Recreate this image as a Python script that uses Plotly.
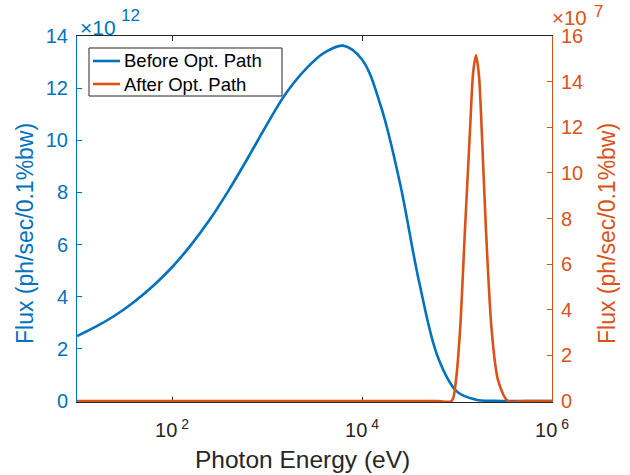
import plotly.graph_objects as go

# ---- data ----
energy_before = [10, 15.8, 25.1, 39.8, 63.1, 100, 158, 251, 398, 631, 1000, 1585, 2512,
                 3981, 6310, 10000, 15849, 25119, 39811, 63096, 100000, 158489, 251189,
                 398107, 630957, 1000000]
flux_before_e12 = [2.49, 2.85, 3.28, 3.80, 4.41, 5.13, 5.98, 6.97, 8.10, 9.33, 10.61,
                   11.80, 12.70, 13.35, 13.63, 13.1, 11.29, 8.35, 4.59, 1.67, 0.36, 0.05,
                   0.01, 0.0, 0.0, 0.0]

energy_after = [10, 1000, 30000, 63100, 87900, 97500, 107700, 121300, 137100, 148000,
                158500, 170000, 182000, 201800, 231700, 270400, 344400, 501000, 1000000]
flux_after_e7 = [0, 0, 0, 0, 0, 0.92, 3.11, 7.5, 11.88, 14.4,
                 15.15, 14.3, 11.88, 7.5, 3.11, 0.92, 0, 0, 0]

series_names = ["Before Opt. Path", "After Opt. Path"]
x_tick_vals = [1e2, 1e4, 1e6]
x_tick_text = ["10<sup> 2</sup>", "10<sup> 4</sup>", "10<sup> 6</sup>"]
left_ticks = [0, 2, 4, 6, 8, 10, 12, 14]
right_ticks = [0, 2, 4, 6, 8, 10, 12, 14, 16]

BLUE = "#0072BD"
ORANGE = "#D95319"
DARK = "#262626"
FONT = "Liberation Sans, Arial, Helvetica, sans-serif"

# plot-area pixel geometry (used to place decorations)
L, R, T, B = 77, 552, 36, 402
W, H = R - L, B - T


def px(xp):
    return (xp - L) / W


def py(yp):
    return (B - yp) / H


fig = go.Figure()
fig.add_trace(go.Scatter(x=energy_before, y=flux_before_e12, name=series_names[0],
                         mode="lines", yaxis="y", showlegend=False,
                         line=dict(color=BLUE, width=2.6, shape="spline", smoothing=1.0)))
fig.add_trace(go.Scatter(x=energy_after, y=flux_after_e7, name=series_names[1],
                         mode="lines", yaxis="y2", showlegend=False,
                         line=dict(color=ORANGE, width=2.6, shape="spline", smoothing=0.8)))

pad = 1.0 / 365
shapes = [
    # legend box
    dict(type="rect", xref="paper", yref="paper", x0=px(89), x1=px(282), y0=py(96), y1=py(48),
         line=dict(color=DARK, width=1), fillcolor="white", layer="above"),
    dict(type="line", xref="paper", yref="paper", x0=px(93), x1=px(120), y0=py(61), y1=py(61),
         line=dict(color=BLUE, width=2.6), layer="above"),
    dict(type="line", xref="paper", yref="paper", x0=px(93), x1=px(120), y0=py(84), y1=py(84),
         line=dict(color=ORANGE, width=2.6), layer="above"),
]

annotations = [
    dict(text=series_names[0], x=px(122), y=py(61), xref="paper", yref="paper",
         xanchor="left", yanchor="middle", showarrow=False,
         font=dict(size=18.5, color="#000000")),
    dict(text=series_names[1], x=px(122), y=py(84), xref="paper", yref="paper",
         xanchor="left", yanchor="middle", showarrow=False,
         font=dict(size=18.5, color="#000000")),
    # exponents
    dict(text="×10", x=px(78), y=py(27), xref="paper", yref="paper",
         xanchor="left", yanchor="middle", showarrow=False, font=dict(size=21, color=BLUE)),
    dict(text="12", x=px(119), y=py(16), xref="paper", yref="paper",
         xanchor="left", yanchor="middle", showarrow=False, font=dict(size=17, color=BLUE)),
    dict(text="×10", x=px(551), y=py(18), xref="paper", yref="paper", borderpad=0,
         xanchor="left", yanchor="middle", showarrow=False, font=dict(size=20.5, color=ORANGE)),
    dict(text="7", x=px(593), y=py(11), xref="paper", yref="paper", borderpad=0,
         xanchor="left", yanchor="middle", showarrow=False, font=dict(size=17, color=ORANGE)),
    # axis titles
    dict(text="Photon Energy (eV)", x=px(302), y=py(459), xref="paper", yref="paper",
         xanchor="center", yanchor="middle", showarrow=False,
         font=dict(size=24.5, color=DARK)),
    dict(text="Flux (ph/sec/0.1%bw)", x=px(25), y=py(234), xref="paper", yref="paper",
         xanchor="center", yanchor="middle", showarrow=False, textangle=-90,
         font=dict(size=23, color=BLUE)),
    dict(text="Flux (ph/sec/0.1%bw)", x=px(607), y=py(234), xref="paper", yref="paper",
         xanchor="center", yanchor="middle", showarrow=False, textangle=-90,
         font=dict(size=23, color=ORANGE)),
]

fig.update_layout(
    width=630, height=475,
    margin=dict(l=L, r=630 - R, t=T, b=475 - B, pad=0),
    paper_bgcolor="white", plot_bgcolor="white",
    font=dict(family=FONT, size=20, color=DARK),
    xaxis=dict(type="log", range=[1, 6], tickvals=x_tick_vals, ticktext=x_tick_text,
               ticks="inside", ticklen=5, tickcolor=DARK, linecolor=DARK, linewidth=1,
               showline=True, mirror="ticks", showgrid=False, zeroline=False,
               tickfont=dict(size=20, color=DARK), layer="below traces",
               ticklabelstandoff=10),
    yaxis=dict(range=[-14 * pad, 14], tickvals=left_ticks, ticks="inside", ticklen=5,
               tickcolor=BLUE, linecolor=BLUE, linewidth=1, showline=True,
               showgrid=False, zeroline=False, tickfont=dict(size=20, color=BLUE),
               layer="below traces", ticklabelstandoff=4),
    yaxis2=dict(range=[-16 * pad, 16], tickvals=right_ticks, ticks="inside", ticklen=5,
                tickcolor=ORANGE, linecolor=ORANGE, linewidth=1, showline=True,
                overlaying="y", side="right", showgrid=False, zeroline=False,
                tickfont=dict(size=20, color=ORANGE), layer="below traces",
                ticklabelstandoff=4),
    showlegend=False,
    shapes=shapes,
    annotations=annotations,
)

fig.write_html("out.html")
